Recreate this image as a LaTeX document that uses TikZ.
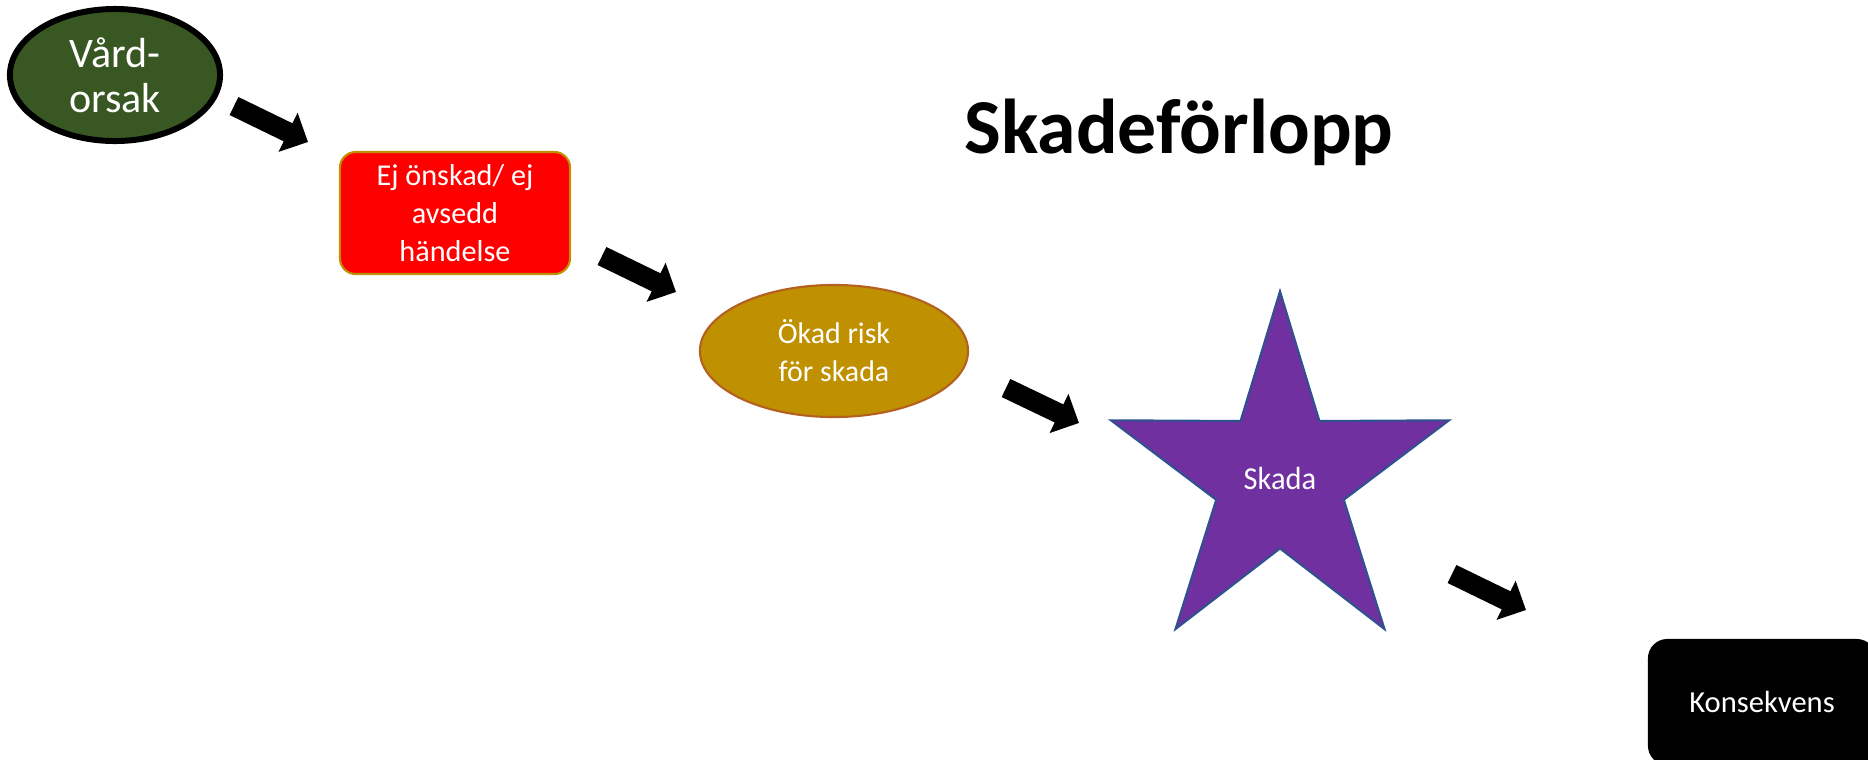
\documentclass[tikz,border=0pt]{standalone}
\usepackage{fontspec}
\setmainfont{Carlito}
\usetikzlibrary{arrows.meta, shapes.geometric}
\definecolor{causegreen}{HTML}{385723}
\definecolor{eventred}{HTML}{FF0000}
\definecolor{riskgold}{HTML}{BF9000}
\definecolor{riskedge}{HTML}{B4601E}
\definecolor{harmpurple}{HTML}{7030A0}
\definecolor{harmedge}{HTML}{2F528F}

\begin{document}
\begin{tikzpicture}[x=0.01cm, y=-0.01cm, >={Triangle[length=6.3pt, width=12pt]},
    flow/.style={->, line width=5.7pt}]
  \clip (0, 0) rectangle (1868, 760);
  \node[font=\bfseries\fontsize{22.1}{27}\selectfont, anchor=base]
    (TTL) at (1179, 153) {Skadeförlopp};
  \node[ellipse, draw=black, line width=1.7pt, fill=causegreen, text=white, inner sep=0pt,
    minimum width=2.1cm, minimum height=1.32cm, align=center, font=\fontsize{11.95}{12.8}\selectfont]
    (VAO) at (115, 75) {Vård-\\orsak};
  \node[draw=riskgold, line width=0.6pt, rounded corners=4.5pt, fill=eventred, text=white,
    minimum width=2.3cm, minimum height=1.22cm, align=center, font=\fontsize{8.6}{10.8}\selectfont]
    (HAN) at (455, 213) {Ej önskad/ ej\\avsedd\\händelse};
  \node[ellipse, draw=riskedge, line width=0.6pt, fill=riskgold, text=white, inner sep=0pt,
    minimum width=2.68cm, minimum height=1.32cm, align=center, font=\fontsize{8.5}{10.8}\selectfont]
    (RSK) at (834, 351) {Ökad risk\\för skada};
  \begin{scope}[shift={(1280, 478)}, xscale=0.952]
    \node[star, star points=5, star point ratio=2.65, draw=harmedge, line width=0.6pt, transform shape,
      fill=harmpurple, text=white, minimum size=3.65cm, font=\fontsize{9.1}{11}\selectfont]
      (SKD) at (0, 0) {Skada};
  \end{scope}
  \node[rounded corners=5.5pt, fill=black, text=white, minimum width=2.28cm, minimum height=1.26cm,
    font=\fontsize{8.7}{11}\selectfont]
    (KON) at (1762, 702) {Konsekvens};
  % block arrows between the steps
  \coordinate (T1) at (234, 106);  \coordinate (H1) at (308, 142);
  \coordinate (T2) at (602, 256);  \coordinate (H2) at (676, 292);
  \coordinate (T3) at (1006, 388); \coordinate (H3) at (1079, 423);
  \coordinate (T4) at (1452, 574); \coordinate (H4) at (1526, 610);
  \draw[flow] (T1) -- (H1);
  \draw[flow] (T2) -- (H2);
  \draw[flow] (T3) -- (H3);
  \draw[flow] (T4) -- (H4);
\end{tikzpicture}
\end{document}
